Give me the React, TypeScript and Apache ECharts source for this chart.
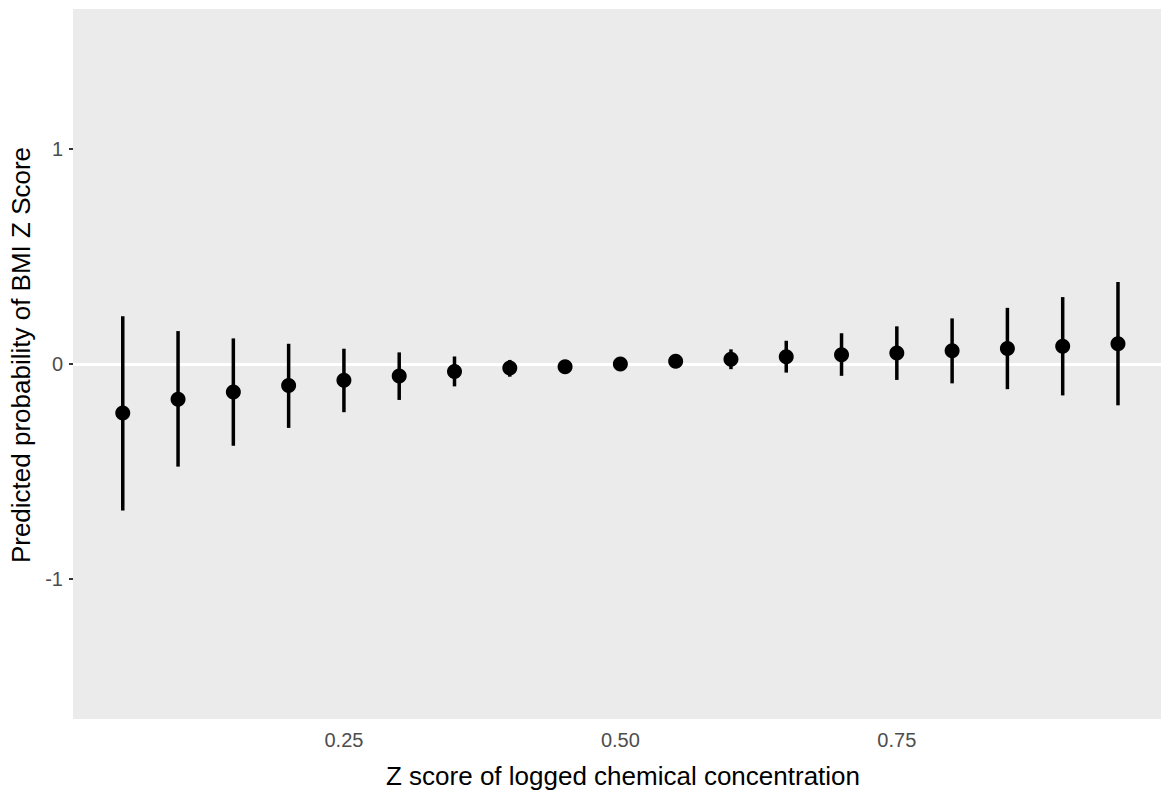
import React, { useEffect, useRef } from "react";
import * as echarts from "echarts";

const xs = [0.05, 0.1, 0.15, 0.2, 0.25, 0.3, 0.35, 0.4, 0.45, 0.5, 0.55, 0.6, 0.65, 0.7, 0.75, 0.8, 0.85, 0.9, 0.95];
const estimate = [-0.228, -0.164, -0.13, -0.1, -0.076, -0.056, -0.035, -0.019, -0.013, 0.0, 0.013, 0.022, 0.034, 0.043, 0.051, 0.062, 0.072, 0.083, 0.094];
const lower = [-0.681, -0.477, -0.38, -0.297, -0.224, -0.167, -0.104, -0.059, -0.03, 0.0, -0.005, -0.024, -0.04, -0.055, -0.074, -0.09, -0.117, -0.146, -0.192];
const upper = [0.222, 0.153, 0.119, 0.094, 0.071, 0.054, 0.035, 0.019, 0.004, 0.0, 0.03, 0.068, 0.108, 0.143, 0.175, 0.212, 0.261, 0.311, 0.381];
const xTicks = [0.25, 0.5, 0.75];
const yTicks = [-1, 0, 1];
const xTitle = "Z score of logged chemical concentration";
const yTitle = "Predicted probability of BMI Z Score";

const FONT = "Liberation Sans, Arial, Helvetica, sans-serif";

export default function App() {
  const ref = useRef<HTMLDivElement>(null);
  useEffect(() => {
    if (!ref.current) return;
    const chart = echarts.init(ref.current, null, { renderer: "svg" });
    const barData = xs.map((x, i) => [x, lower[i], upper[i]]);
    const pointData = xs.map((x, i) => [x, estimate[i]]);
    chart.setOption({
      animation: false,
      backgroundColor: "#ffffff",
      grid: {
        left: 72,
        right: 0,
        top: 9,
        bottom: 71,
        show: true,
        backgroundColor: "#EBEBEB",
        borderWidth: 0,
      },
      xAxis: {
        type: "value",
        min: 0.005,
        max: 0.9889,
        name: xTitle,
        nameLocation: "middle",
        nameGap: 44,
        nameTextStyle: { color: "#000000", fontSize: 26, fontFamily: FONT, padding: [0, 0, 0, 12] },
        axisLine: { show: false },
        splitLine: { show: false },
        axisTick: {
          show: true,
          length: 4,
          lineStyle: { color: "#333333", width: 2 },
          customValues: xTicks,
        },
        axisLabel: {
          color: "#4D4D4D",
          fontSize: 20,
          fontFamily: FONT,
          margin: 11,
          customValues: xTicks,
          formatter: (v: number) => v.toFixed(2),
        },
      },
      yAxis: {
        type: "value",
        min: -1.65,
        max: 1.65,
        name: yTitle,
        nameLocation: "middle",
        nameGap: 39,
        nameRotate: 90,
        nameTextStyle: { color: "#000000", fontSize: 26, fontFamily: FONT, padding: [0, 0, 0, 18] },
        axisLine: { show: false },
        splitLine: { show: false },
        axisTick: {
          show: true,
          length: 4,
          lineStyle: { color: "#333333", width: 2 },
          customValues: yTicks,
        },
        axisLabel: {
          color: "#4D4D4D",
          fontSize: 20,
          fontFamily: FONT,
          margin: 10,
          customValues: yTicks,
          formatter: (v: number) => String(Math.round(v)),
        },
      },
      series: [
        {
          type: "line",
          data: [],
          silent: true,
          z: 1,
          markLine: {
            z: 1,
            silent: true,
            symbol: "none",
            label: { show: false },
            lineStyle: { color: "#ffffff", width: 3, type: "solid" },
            data: [{ yAxis: 0 }],
          },
        },
        {
          type: "custom",
          z: 2,
          encode: { x: 0, y: [1, 2] },
          data: barData,
          renderItem: (params: any, api: any) => {
            const x = api.value(0);
            const lo = api.coord([x, api.value(1)]);
            const hi = api.coord([x, api.value(2)]);
            return {
              type: "line",
              shape: { x1: lo[0], y1: lo[1], x2: hi[0], y2: hi[1] },
              style: { stroke: "#000000", lineWidth: 3.5 },
            };
          },
        },
        {
          type: "scatter",
          z: 3,
          data: pointData,
          symbol: "circle",
          symbolSize: 15,
          itemStyle: { color: "#000000", opacity: 1 },
        },
      ],
    });
    return () => chart.dispose();
  }, []);
  return <div ref={ref} style={{ width: 1161, height: 794, position: "absolute", left: 0, top: 0 }} />;
}
